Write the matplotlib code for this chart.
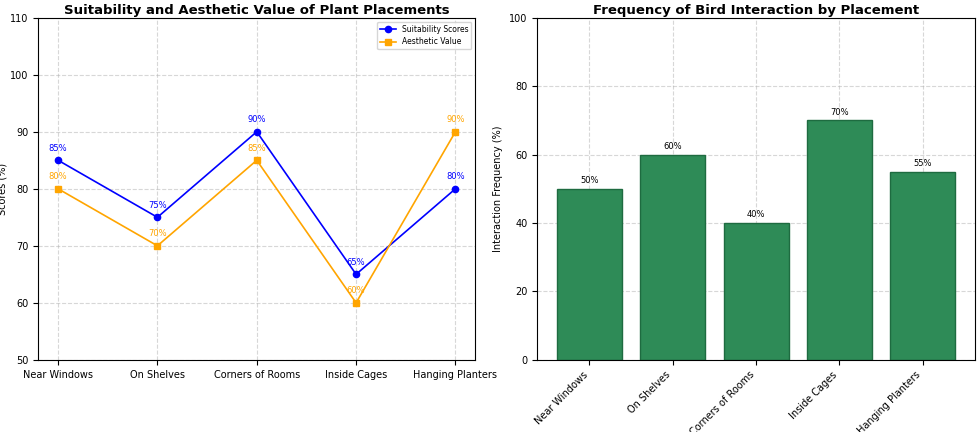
import matplotlib
matplotlib.use("Agg")
import matplotlib.pyplot as plt
import numpy as np

placements = ["Near Windows", "On Shelves", "Corners of Rooms", "Inside Cages", "Hanging Planters"]
suitability = [85, 75, 90, 65, 80]
aesthetic = [80, 70, 85, 60, 90]
interaction = [50, 60, 40, 70, 55]


def main() -> None:
    fig = plt.figure(figsize=(9.8, 4.32), dpi=100)
    ax1 = fig.add_axes([0.039, 0.167, 0.446, 0.792])
    ax2 = fig.add_axes([0.548, 0.167, 0.447, 0.792])

    x = np.arange(len(placements))
    ax1.plot(x, suitability, color="blue", marker="o", markersize=4.5, linewidth=1.2, label="Suitability Scores")
    ax1.plot(x, aesthetic, color="orange", marker="s", markersize=4.5, linewidth=1.2, label="Aesthetic Value")
    for xi, s, a in zip(x, suitability, aesthetic):
        ax1.annotate(f"{s}%", (xi, s), textcoords="offset points", xytext=(0, 7),
                     ha="center", fontsize=6, color="blue")
        ax1.annotate(f"{a}%", (xi, a), textcoords="offset points", xytext=(0, 7),
                     ha="center", fontsize=6, color="orange")
    ax1.set_ylim(50, 110)
    ax1.set_xlim(-0.2, 4.2)
    ax1.set_xticks(x)
    ax1.set_xticklabels(placements, fontsize=7)
    ax1.tick_params(axis="y", labelsize=7)
    ax1.set_ylabel("Scores (%)", fontsize=7, labelpad=2)
    ax1.set_title("Suitability and Aesthetic Value of Plant Placements", fontsize=9.5,
                  fontweight="bold", pad=3)
    ax1.grid(True, linestyle="--", alpha=0.5)
    ax1.legend(loc="upper right", fontsize=5.5)

    ax2.bar(x, interaction, width=0.78, color="#2e8b57", edgecolor="#1e6b40", zorder=2)
    for xi, v in zip(x, interaction):
        ax2.annotate(f"{v}%", (xi, v), textcoords="offset points", xytext=(0, 4),
                     ha="center", fontsize=6)
    ax2.set_ylim(0, 100)
    ax2.set_xticks(x)
    ax2.set_xticklabels(placements, rotation=45, ha="right", fontsize=7)
    ax2.tick_params(axis="y", labelsize=7)
    ax2.set_ylabel("Interaction Frequency (%)", fontsize=7)
    ax2.set_title("Frequency of Bird Interaction by Placement", fontsize=9.5, fontweight="bold", pad=3)
    ax2.grid(True, linestyle="--", alpha=0.5, zorder=0)

    fig.savefig("out.png", dpi=100)


if __name__ == "__main__":
    main()
